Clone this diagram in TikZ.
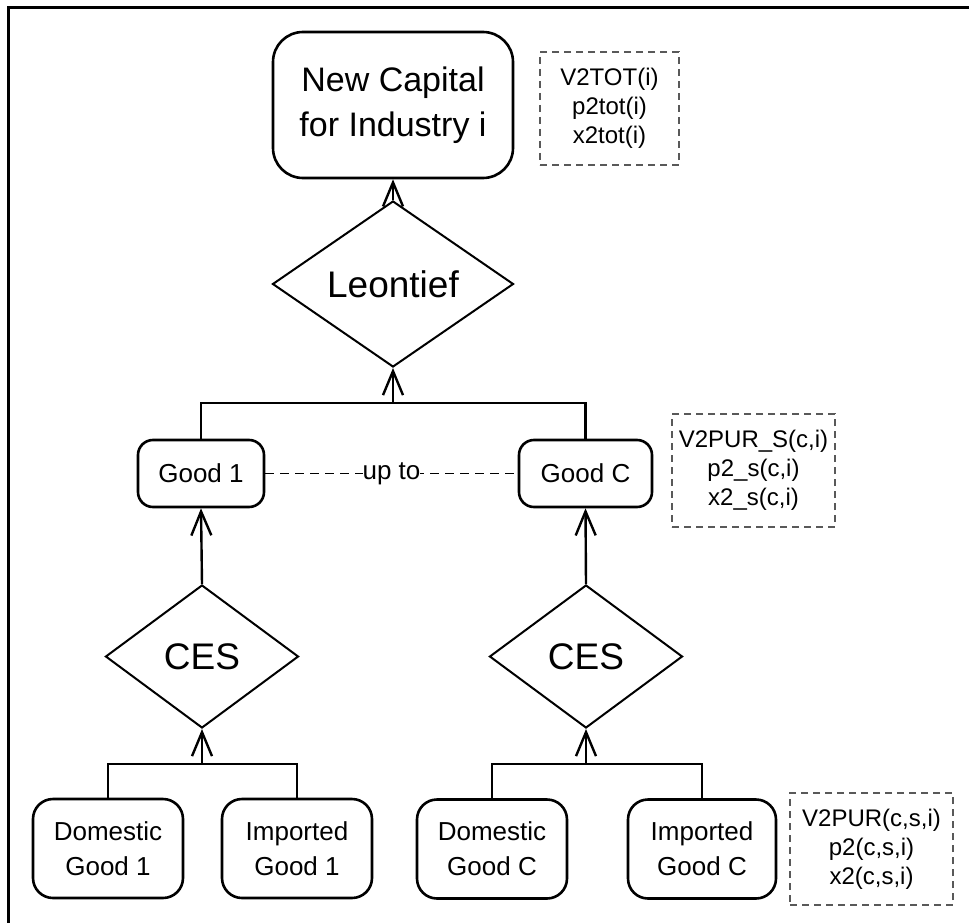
\documentclass[tikz,border=0pt]{standalone}
\usepackage{fontspec}
\setmainfont{Liberation Sans}
\usetikzlibrary{shapes.geometric,arrows.meta}

\tikzset{
  goodbox/.style={draw, line width=2.6pt, rounded corners=#1, align=center,
    inner sep=0pt},
  choice/.style={draw, diamond, line width=2pt, inner sep=0pt, aspect=1.45},
  varbox/.style={draw=black!65, line width=1.2pt, dash pattern=on 7pt off 5pt,
    align=center, inner sep=0pt, font=\fontsize{24}{29}\selectfont},
  link/.style={line width=2.6pt},
  flow/.style={line width=2.4pt, -{Straight Barb[length=24pt,width=20pt]}},
  bigtext/.style={font=\fontsize{34}{45}\selectfont},
  fnctext/.style={font=\fontsize{37}{44}\selectfont},
  midtext/.style={font=\fontsize{26}{35}\selectfont},
}

\begin{document}
\begin{tikzpicture}[x=1pt, y=-1pt]
\useasboundingbox (0,0) rectangle (969,923);

% frame (only its top and left edges fall inside the page)
\draw[line width=2.4pt] (8.5,923) |- (969,7.5);

% top level
\node[goodbox=30pt, bigtext, minimum width=240pt, minimum height=146pt]
  (cap) at (393,105) {New Capital\\for Industry i};
\node[varbox, minimum width=139pt, minimum height=113pt]
  (vtot) at (609.5,108.5) {V2TOT(i)\\p2tot(i)\\x2tot(i)};
\node[choice, fnctext, minimum width=241pt, minimum height=166pt]
  (leo) at (393,284) {Leontief};

% composite goods
\node[goodbox=15pt, midtext, minimum width=126pt, minimum height=67pt]
  (g1) at (201,473.5) {Good 1};
\node[goodbox=15pt, midtext, minimum width=133pt, minimum height=67pt]
  (gc) at (585.5,473.5) {Good C};
\node[varbox, minimum width=163pt, minimum height=113pt]
  (vs) at (753.5,470.5) {V2PUR\_S(c,i)\\p2\_s(c,i)\\x2\_s(c,i)};

% CES nests
\node[choice, fnctext, minimum width=193pt, minimum height=143pt]
  (ces1) at (202,656.5) {CES};
\node[choice, fnctext, minimum width=193pt, minimum height=143pt]
  (cesc) at (586,656.5) {CES};

% sources
\node[goodbox=20pt, midtext, minimum width=150pt, minimum height=99pt]
  (d1) at (108,848.5) {Domestic\\Good 1};
\node[goodbox=20pt, midtext, minimum width=150pt, minimum height=99pt]
  (i1) at (297,848.5) {Imported\\Good 1};
\node[goodbox=20pt, midtext, minimum width=150pt, minimum height=99pt]
  (dc) at (492,849) {Domestic\\Good C};
\node[goodbox=20pt, midtext, minimum width=148pt, minimum height=99pt]
  (ic) at (702,849) {Imported\\Good C};
\node[varbox, minimum width=163pt, minimum height=112pt]
  (vp) at (871.5,849) {V2PUR(c,s,i)\\p2(c,s,i)\\x2(c,s,i)};

% junctions
\coordinate (jt) at (393,403);
\coordinate (j1) at (202,764);
\coordinate (jc) at (586,764);

% connectors
\draw[link] (g1.north) |- (jt) -| (gc.north);
\draw[flow] (jt) -- (leo.south);
\draw[flow] (leo.north) -- (cap.south);

\draw[link] (d1.north) |- (j1) -| (i1.north);
\draw[flow] (j1) -- (ces1.south);
\draw[flow] (ces1.north) -- (g1.south);

\draw[link] (dc.north) |- (jc) -| (ic.north);
\draw[flow] (jc) -- (cesc.south);
\draw[flow] (cesc.north) -- (gc.south);

\draw[line width=1.2pt, dash pattern=on 9pt off 6pt] (g1.east) --
  node[fill=white, inner sep=0pt, midtext] {up to} (gc.west);
\end{tikzpicture}
\end{document}
